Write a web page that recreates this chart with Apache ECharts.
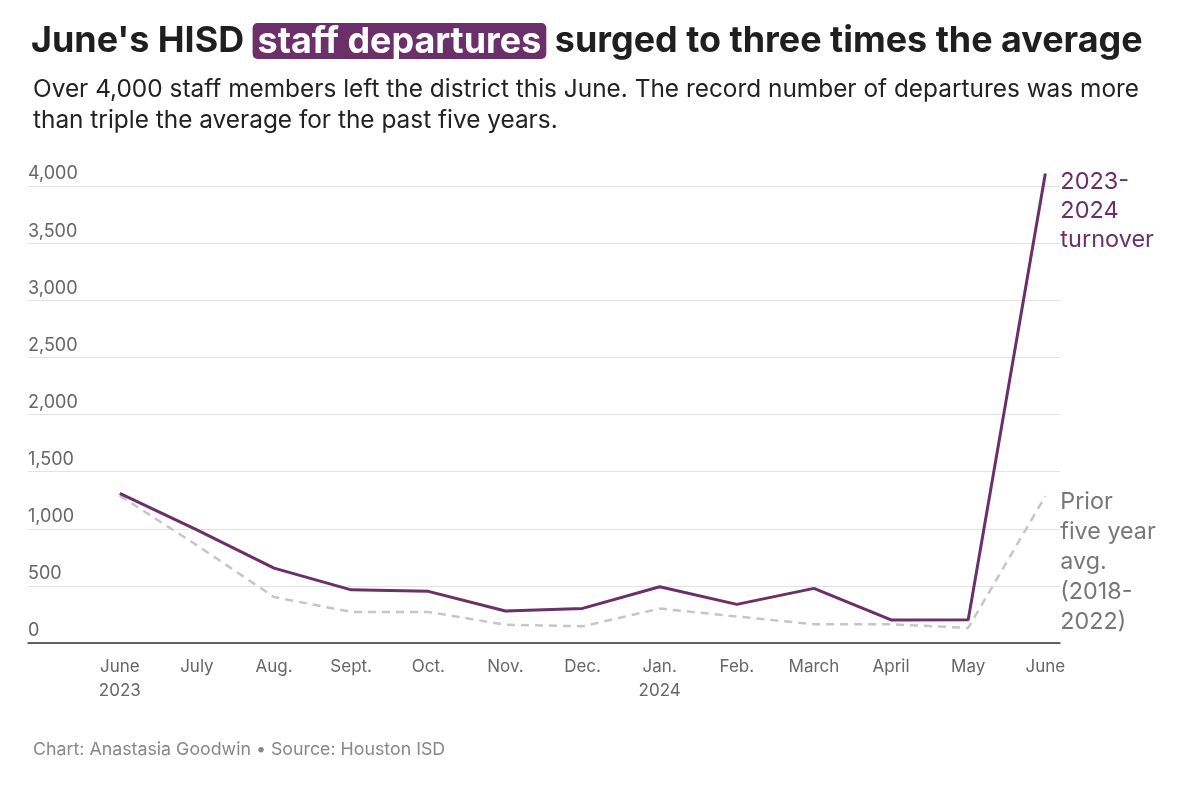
<!DOCTYPE html>
<html>
<head>
<meta charset="utf-8">
<script src="https://cdn.jsdelivr.net/npm/echarts@6/dist/echarts.min.js"></script>
<style>
html,body{margin:0;padding:0;background:#fff;}
#chart{width:1200px;height:797px;}
</style>
</head>
<body>
<div id="chart"></div>
<script>
// Data
const monthLabels = ['June\n2023','July','Aug.','Sept.','Oct.','Nov.','Dec.','Jan.\n2024','Feb.','March','April','May','June'];
const turnover2324 = [1310, 990, 655, 465, 452, 280, 303, 492, 338, 478, 202, 204, 4110];
const priorAvg = [1290, 855, 402, 272, 272, 160, 146, 301, 232, 164, 164, 132, 1285];
const yTicks = [0, 500, 1000, 1500, 2000, 2500, 3000, 3500, 4000];

const PURPLE = '#6b2f69';
const GRAY_LINE = '#c6c6ca';
const FONT = 'Inter, Roboto, "Noto Sans", sans-serif';

const chart = echarts.init(document.getElementById('chart'));
const idx = monthLabels.map((_, i) => i);

chart.setOption({
  backgroundColor: '#fff',
  animation: false,
  textStyle: { fontFamily: FONT },
  title: [
    {
      left: 26, top: 18,
      text: "{a|June's HISD }{b|staff departures}{a| surged to three times the average}",
      textStyle: {
        rich: {
          a: { fontFamily: FONT, fontSize: 35.9, fontWeight: 'bold', color: '#1f1f1f' },
          b: { fontFamily: FONT, fontSize: 35.9, fontWeight: 'bold', color: '#fff',
               backgroundColor: PURPLE, borderRadius: 5, padding: [1, 5, -1, 5] }
        }
      }
    },
    {
      left: 28, top: 69,
      text: 'Over 4,000 staff members left the district this June. The record number of departures was more\nthan triple the average for the past five years.',
      textStyle: { fontFamily: FONT, fontSize: 24.4, fontWeight: 'normal', color: '#222', lineHeight: 31 }
    },
    {
      left: 28, top: 736,
      text: 'Chart: Anastasia Goodwin • Source: Houston ISD',
      textStyle: { fontFamily: FONT, fontSize: 17.8, fontWeight: 'normal', color: '#888' }
    }
  ],
  grid: { left: 28, right: 140, top: 186, bottom: 154, containLabel: false },
  xAxis: {
    type: 'value',
    min: -1.19,
    max: 12.19,
    axisLine: { show: true, onZero: true, lineStyle: { color: '#333', width: 1.5 } },
    axisTick: { show: false },
    splitLine: { show: false },
    axisLabel: {
      customValues: idx,
      formatter: v => monthLabels[Math.round(v)],
      color: '#666', fontSize: 17, lineHeight: 24, margin: 12, fontFamily: FONT
    }
  },
  yAxis: {
    type: 'value',
    min: 0, max: 4000, interval: 500,
    axisLine: { show: false },
    axisTick: { show: false },
    splitLine: { lineStyle: { color: '#e3e3e3', width: 1 } },
    axisLabel: {
      inside: true,
      verticalAlign: 'bottom',
      margin: 0,
      padding: [0, 0, 3, 0],
      color: '#666', fontSize: 18, fontFamily: FONT,
      formatter: v => yTicks.includes(v) ? v.toLocaleString('en-US') : ''
    }
  },
  series: [
    {
      name: 'Prior five year avg. (2018-2022)',
      type: 'line',
      data: priorAvg.map((v, i) => [i, v]),
      showSymbol: false,
      clip: false,
      lineStyle: { color: GRAY_LINE, width: 2.5, type: [8, 6] },
      endLabel: {
        show: true,
        formatter: 'Prior\nfive year\navg.\n(2018-\n2022)',
        color: '#777', fontSize: 23.3, lineHeight: 30, fontFamily: FONT,
        align: 'left', distance: 10, offset: [5, 66]
      },
      z: 2
    },
    {
      name: '2023-2024 turnover',
      type: 'line',
      data: turnover2324.map((v, i) => [i, v]),
      showSymbol: false,
      clip: false,
      lineStyle: { color: PURPLE, width: 3 },
      endLabel: {
        show: true,
        formatter: '2023-\n2024\nturnover',
        color: PURPLE, fontSize: 23.5, lineHeight: 29, fontFamily: FONT,
        align: 'left', distance: 10, offset: [5, 38]
      },
      z: 3
    }
  ]
});
</script>
</body>
</html>
